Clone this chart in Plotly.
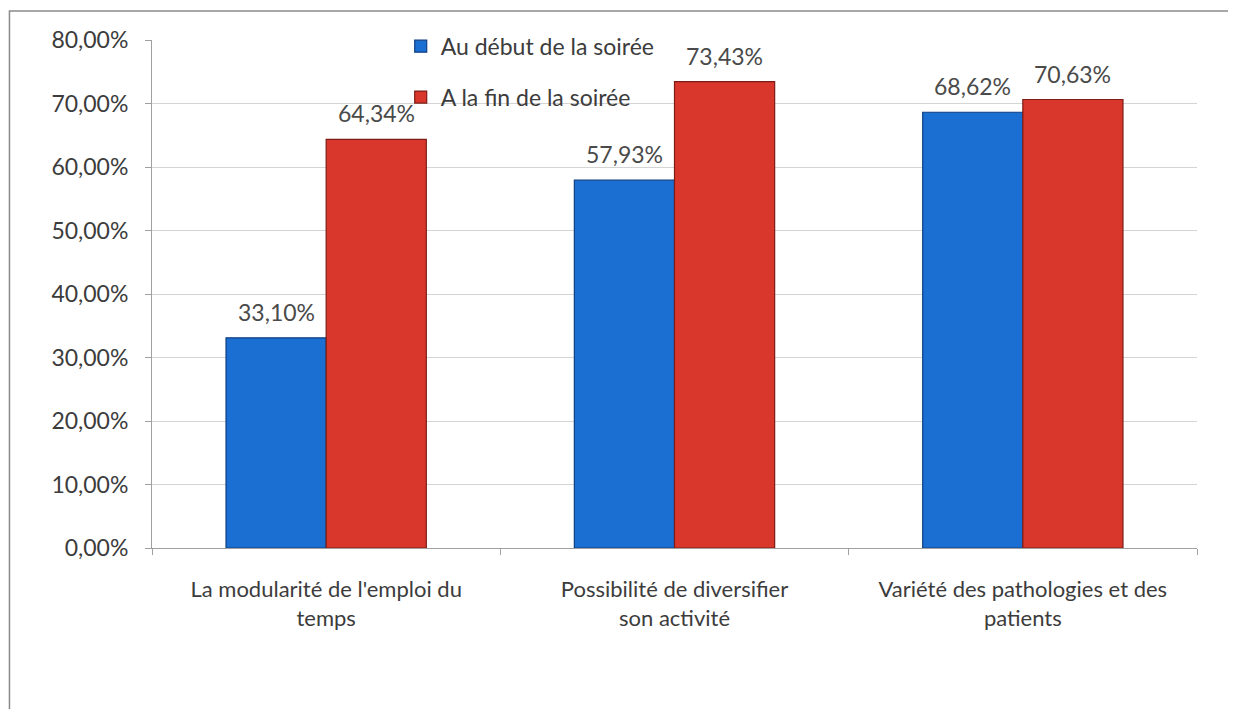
import plotly.graph_objects as go

categories = [
    "La modularité de l'emploi du<br>temps",
    "Possibilité de diversifier<br>son activité",
    "Variété des pathologies et des<br>patients",
]
series_names = ["Au début de la soirée", "A la fin de la soirée"]
debut_values = [33.10, 57.93, 68.62]
fin_values = [64.34, 73.43, 70.63]
ytick_vals = [0, 10, 20, 30, 40, 50, 60, 70, 80]
ytick_text = ["0,00%", "10,00%", "20,00%", "30,00%", "40,00%", "50,00%", "60,00%", "70,00%", "80,00%"]


def fmt(v):
    return f"{v:.2f}%".replace(".", ",")


FONT = "Lato, 'Open Sans', sans-serif"
TXT = "#3c3c3c"

fig = go.Figure()
fig.add_trace(go.Bar(
    x=categories, y=debut_values, name=series_names[0], legendgroup="a",
    offsetgroup="a",
    marker=dict(color="#1c6fd2", line=dict(color="#0e3f80", width=1.2)),
))
fig.add_trace(go.Bar(
    x=categories, y=fin_values, name=series_names[1], legendgroup="b",
    offsetgroup="b",
    marker=dict(color="#d9372c", line=dict(color="#7d1c14", width=1.2)),
))

annotations = []
for vals, xs in ((debut_values, -50), (fin_values, 50)):
    for c, v in zip(categories, vals):
        annotations.append(dict(
            x=c, y=v, xref="x", yref="y", text=fmt(v), showarrow=False,
            xshift=xs, yshift=26, yanchor="middle",
            font=dict(size=23, color="#4a4a4a", family=FONT),
        ))

fig.update_layout(
    width=1228, height=701,
    margin=dict(l=144, r=39, t=32, b=161),
    paper_bgcolor="white", plot_bgcolor="white",
    font=dict(family=FONT, color=TXT, size=22),
    barmode="group", bargap=0.425, bargroupgap=0,
    legend=dict(x=0.238, y=1.03, xanchor="left", yanchor="top",
                bgcolor="rgba(0,0,0,0)", font=dict(size=23, color=TXT),
                tracegroupgap=18, traceorder="grouped"),
    xaxis=dict(showline=True, linecolor="#a0a0a0", linewidth=1,
               ticks="outside", tickson="boundaries", ticklen=6, tickcolor="#a0a0a0",
               tickfont=dict(size=22, color=TXT), showgrid=False,
               ticklabelstandoff=22),
    yaxis=dict(range=[0, 80], tickvals=ytick_vals, ticktext=ytick_text,
               showline=True, linecolor="#a0a0a0", linewidth=1,
               ticks="outside", ticklen=6, tickcolor="#a0a0a0",
               gridcolor="#d4d4d4", gridwidth=1, zeroline=False,
               tickfont=dict(size=23, color=TXT), ticklabelstandoff=12),
    annotations=annotations,
    shapes=[dict(type="rect", xref="paper", yref="paper",
                 x0=-0.1364, x1=1.0354, y0=-0.5, y1=1.057,
                 line=dict(color="#8a8a8a", width=1.5), fillcolor="rgba(0,0,0,0)",
                 layer="below")],
)

fig.write_html("out.html")
